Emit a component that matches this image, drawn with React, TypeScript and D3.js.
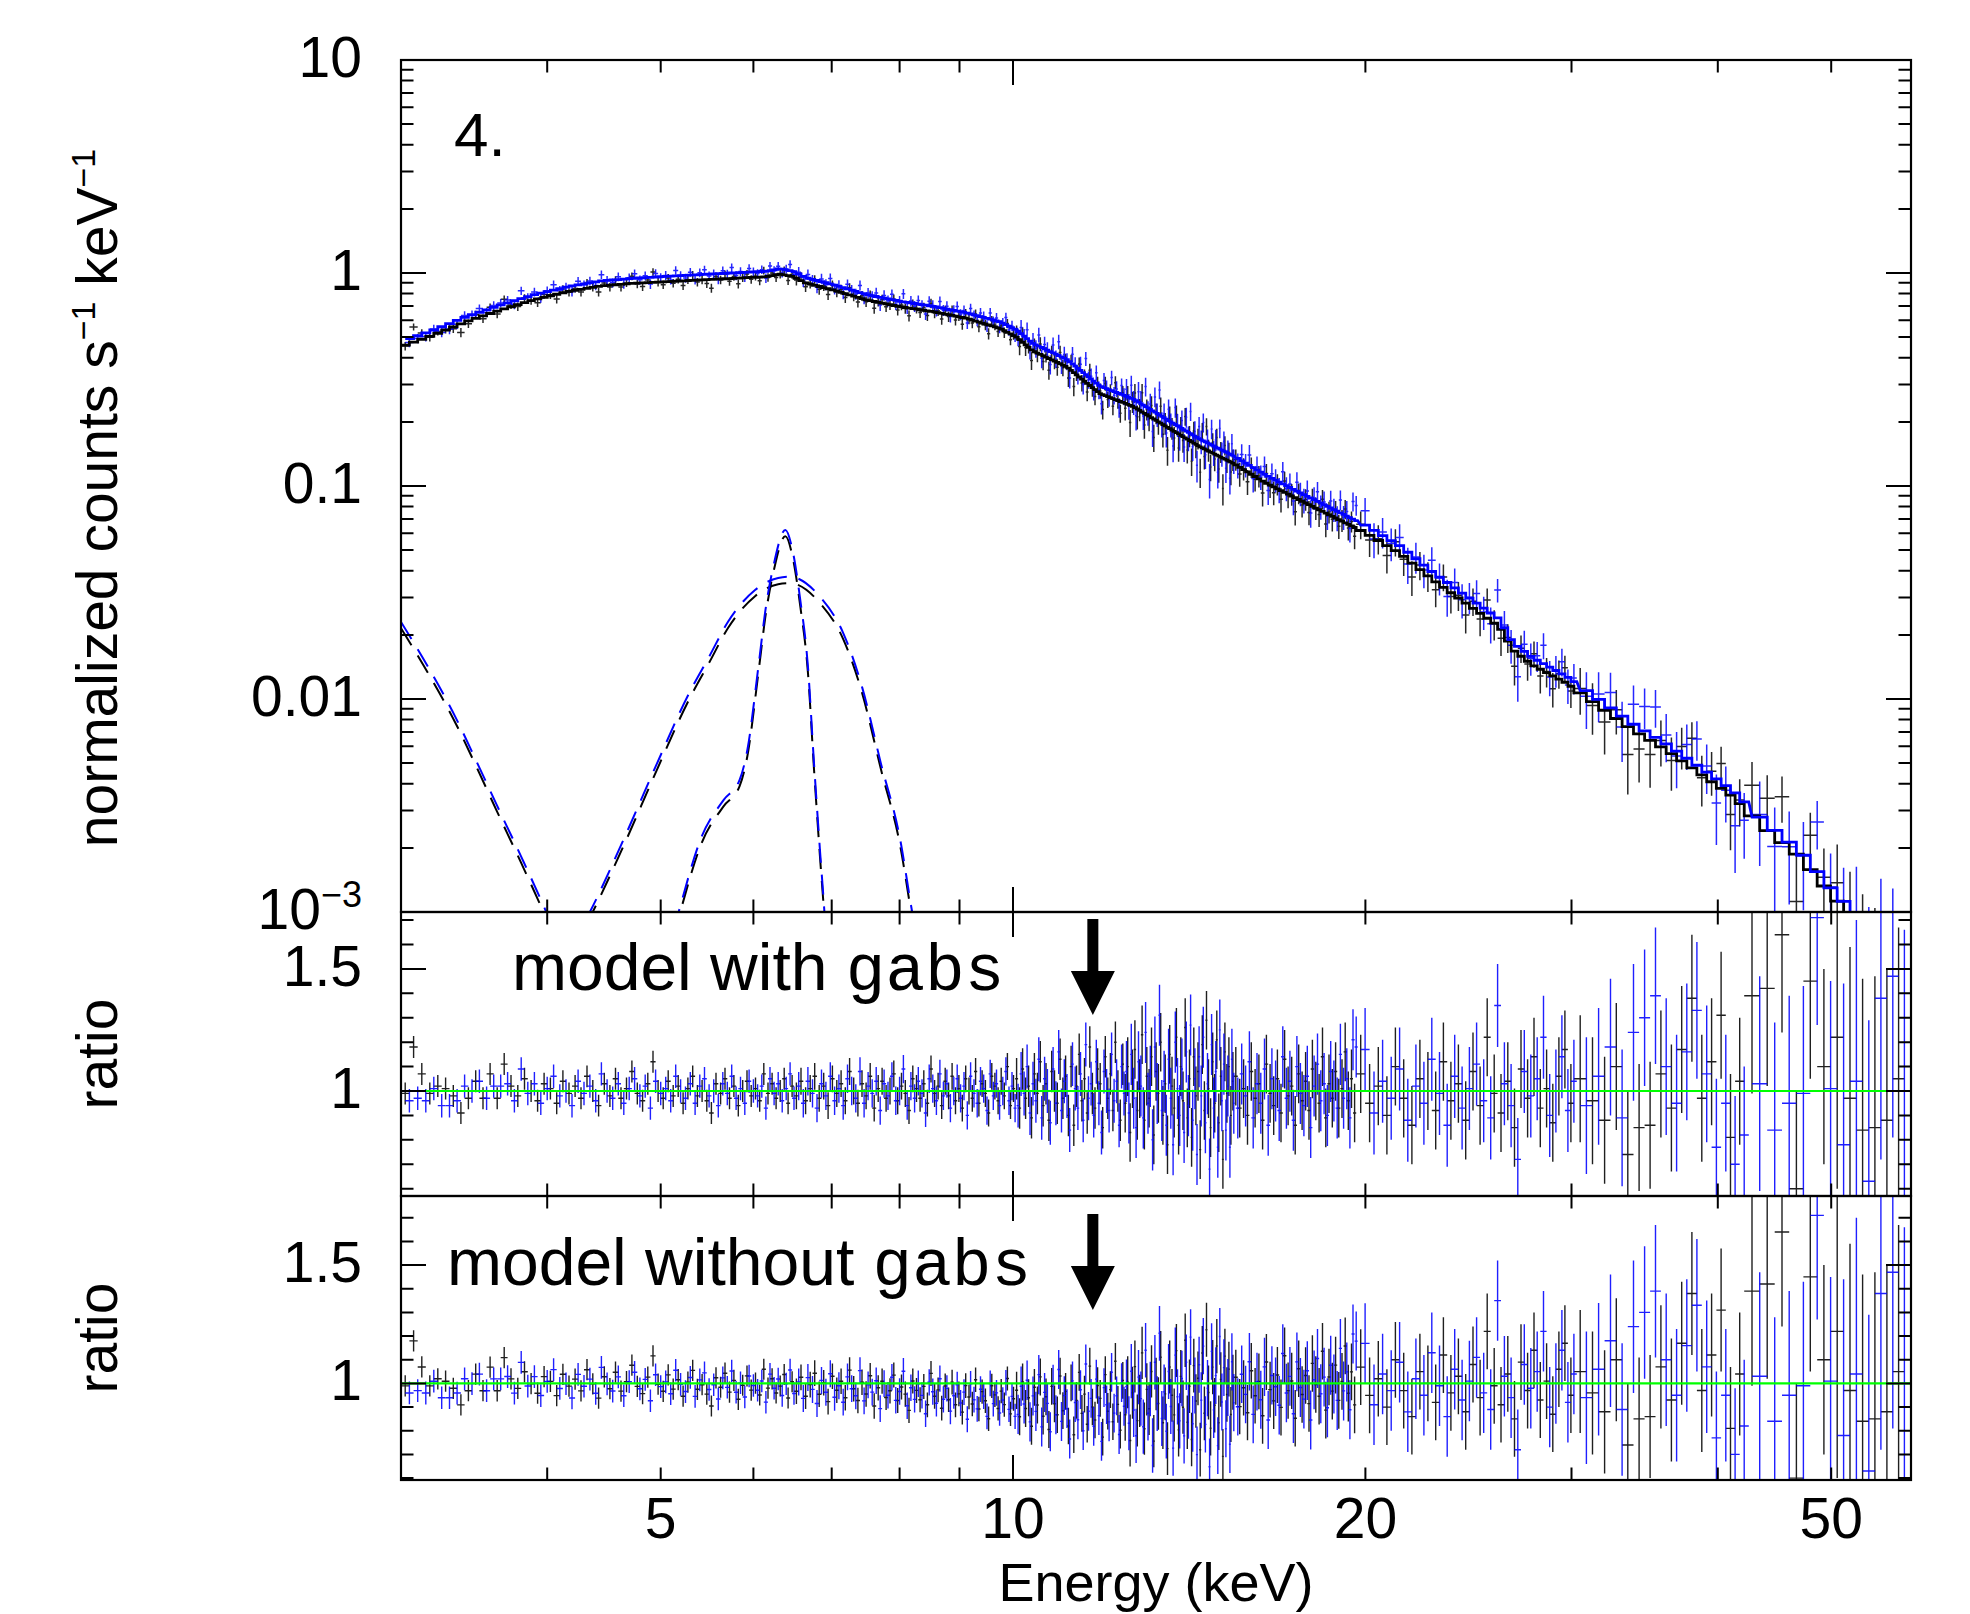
import React from 'react';
import * as d3 from 'd3';

// ---------------- DATA ----------------
// Model (folded, normalized counts s^-1 keV^-1) key points
const modelE = [3.0, 3.2, 3.41, 3.65, 3.89, 4.16, 4.44, 4.74, 5.06, 5.40, 5.77, 6.16, 6.32, 6.49, 6.66, 7.02, 7.50, 8.00, 8.55, 9.12, 9.74, 10.07, 10.40, 11.11, 11.47, 11.86, 12.67, 13.52, 14.44, 15.41, 16.46, 17.57, 18.76, 20.03, 21.39, 22.84, 24.38, 26.04, 26.73, 27.80, 29.69, 31.70, 33.84, 36.14, 38.59, 41.20, 44.00, 46.97, 50.16, 51.5, 58.5];
const modelFPMA = [0.451, 0.512, 0.591, 0.671, 0.747, 0.817, 0.869, 0.895, 0.910, 0.927, 0.944, 0.961, 0.989, 0.961, 0.895, 0.832, 0.747, 0.695, 0.658, 0.613, 0.55, 0.50, 0.43, 0.363, 0.315, 0.272, 0.236, 0.190, 0.153, 0.128, 0.103, 0.086, 0.0718, 0.0600, 0.0484, 0.0362, 0.0281, 0.0218, 0.0170, 0.0144, 0.0119, 0.0092, 0.00715, 0.00576, 0.00448, 0.00348, 0.00243, 0.00182, 0.00118, 0.00102, 0.00045];
const modelFPMB = [0.476, 0.540, 0.623, 0.708, 0.788, 0.862, 0.917, 0.944, 0.965, 0.983, 1.001, 1.019, 1.048, 1.019, 0.949, 0.882, 0.792, 0.737, 0.697, 0.650, 0.591, 0.540, 0.467, 0.394, 0.342, 0.295, 0.256, 0.206, 0.166, 0.139, 0.112, 0.0933, 0.0779, 0.0651, 0.0525, 0.0393, 0.0305, 0.0237, 0.0184, 0.0156, 0.0128, 0.00989, 0.00765, 0.00616, 0.00479, 0.00372, 0.00260, 0.00195, 0.00126, 0.00109, 0.00048];

// Additive model components (dashed)
const softE = [3.0, 3.17, 3.34, 3.48, 3.62, 3.80, 3.98, 4.15];
const softA = [0.0215, 0.0130, 0.0077, 0.0048, 0.0030, 0.00170, 0.00097, 0.00056];
const softB = [0.0230, 0.0139, 0.0082, 0.0051, 0.0032, 0.00182, 0.00104, 0.00060];
const broadE = [4.2, 4.35, 4.66, 4.95, 5.29, 5.50, 5.71, 6.02, 6.30, 6.44, 6.84, 7.16, 7.43, 7.71, 8.01, 8.20, 8.4];
const broadA = [0.00065, 0.00094, 0.00211, 0.0045, 0.0100, 0.0148, 0.0216, 0.0304, 0.0346, 0.0350, 0.0282, 0.0191, 0.0107, 0.0047, 0.00204, 0.00094, 0.00047];
const broadB = [0.0007, 0.001, 0.00226, 0.00481, 0.0107, 0.0158, 0.0231, 0.0325, 0.0370, 0.0375, 0.0302, 0.0204, 0.0114, 0.0050, 0.00218, 0.0010, 0.0005];
const narrowE = [5.05, 5.18, 5.42, 5.66, 5.84, 5.93, 6.06, 6.15, 6.24, 6.39, 6.48, 6.58, 6.68, 6.76, 6.84, 6.90, 6.95];
const narrowA = [0.00056, 0.00094, 0.00211, 0.00314, 0.0039, 0.0054, 0.0133, 0.0253, 0.0391, 0.0581, 0.0468, 0.0273, 0.0133, 0.0047, 0.00182, 0.00094, 0.00047];
const narrowB = [0.0006, 0.001, 0.00226, 0.00336, 0.00417, 0.00578, 0.0142, 0.0271, 0.0418, 0.0622, 0.0501, 0.0292, 0.0142, 0.0050, 0.00195, 0.0010, 0.0005];

// Spectral binning (keV): group start, bin width, number of bins, typical 1-sigma ratio error
const segStart = [3.0, 6.5, 10.04, 12.44, 15.44, 19.64, 30.14, 42.14, 49.94];
const segWidth = [0.05, 0.06, 0.06, 0.06, 0.12, 0.35, 0.75, 1.3, 1.3];
const segCount = [70, 59, 40, 50, 35, 30, 16, 6, 6];
const segErrA = [0.045, 0.055, 0.085, 0.12, 0.12, 0.16, 0.26, 0.40, 0.62];
const segErrB = [0.048, 0.058, 0.09, 0.125, 0.125, 0.17, 0.28, 0.44, 0.66];
const binOffset = [0, 0.5]; // FPMA, FPMB grid offset (fraction of a bin)

// Data / model ratio (model with gabs), FPMA (black)
const ratioA = [
  0.99, 1.18, 1.07, 0.99, 1.02, 1.01, 0.98, 0.91, 0.97, 1.04,
  0.97, 1.07, 0.97, 1.11, 1.02, 0.98, 1.05, 1.00, 0.96, 1.03,
  1.01, 0.95, 1.04, 0.99, 1.02, 0.97, 1.06, 1.00, 0.94, 1.03,
  0.98, 1.05, 0.97, 1.01, 1.08, 0.99, 0.96, 1.03, 1.12, 1.00,
  0.97, 1.04, 0.98, 1.02, 0.95, 1.01, 1.06, 0.98, 1.00, 0.96,
  0.91, 1.03, 0.99, 1.05, 0.97, 1.02, 0.94, 1.00, 1.04, 0.98,
  1.01, 0.96, 1.07, 0.99, 1.03, 0.97, 1.00, 1.05, 0.95, 1.02,
  0.98, 1.04, 0.96, 1.01, 1.06, 0.97, 1.02, 0.94, 1.05, 0.99,
  1.03, 0.96, 1.08, 1.00, 0.95, 1.03, 0.98, 1.06, 0.93, 1.01,
  1.04, 0.97, 1.00, 1.07, 0.96, 1.02, 0.99, 0.92, 1.05, 1.01,
  0.97, 1.03, 0.95, 1.09, 0.99, 1.02, 0.94, 1.04, 0.98, 1.06,
  0.96, 1.01, 0.93, 1.05, 1.00, 0.97, 1.08, 0.95, 1.03, 0.99,
  0.91, 1.06, 1.02, 0.96, 1.04, 0.98, 1.10, 0.94, 1.01,
  1.05, 0.93, 1.09, 0.97, 1.02, 0.89, 1.07, 0.99, 1.12, 0.94,
  1.03, 0.88, 1.08, 1.00, 0.95, 1.13, 0.97, 1.06, 0.90, 1.10,
  0.86, 1.02, 1.15, 0.96, 1.05, 0.91, 1.18, 0.99, 0.93, 1.09,
  1.03, 0.85, 1.14, 0.97, 1.07, 0.92, 1.20, 1.00, 0.88, 1.11,
  0.95, 1.10, 0.83, 1.05, 1.17, 0.92, 1.01, 1.23, 0.88, 1.06,
  0.97, 1.14, 0.82, 1.08, 0.99, 1.20, 0.90, 1.03, 0.78, 1.15,
  1.02, 0.93, 1.22, 0.86, 1.10, 0.96, 1.26, 0.89, 1.05, 0.81,
  1.14, 0.98, 1.08, 0.76, 1.19, 0.92, 1.29, 1.01, 0.85, 1.12,
  0.95, 1.21, 0.87, 1.06, 0.72, 1.16, 0.99, 1.10, 0.90, 1.04,
  1.06, 0.93, 1.01, 0.90, 1.08, 0.97, 1.03, 0.88, 1.11, 0.99,
  0.94, 1.05, 0.91, 1.13, 0.98, 1.02, 0.86, 1.07, 0.96, 1.04,
  0.92, 1.09, 1.00, 0.95, 1.14, 0.89, 1.03, 0.97, 1.08, 0.93,
  1.01, 1.16, 0.96, 1.05, 0.91,
  1.07, 0.95, 1.02, 0.90, 1.10, 0.97, 0.86, 1.05, 1.00, 0.92,
  1.12, 0.96, 1.03, 0.88, 1.08, 0.94, 1.22, 0.99, 0.91, 1.04,
  0.85, 1.09, 0.97, 1.14, 0.93, 1.01, 0.87, 1.06, 1.17, 0.95,
  1.05, 0.96, 0.88, 1.10, 0.74, 0.85, 0.86, 1.07, 0.93, 1.17, 1.38, 0.97, 1.12, 1.31, 0.81, 1.04,
  1.39, 1.42, 1.64, 0.60, 1.45, 1.10,
  1.22, 0.97, 0.84, 0.85, 0.88, 1.05,
];

// Data / model ratio (model with gabs), FPMB (blue)
const ratioB = [
  0.96, 0.97, 0.96, 1.01, 0.94, 0.94, 0.96, 1.02, 1.00, 1.04,
  0.97, 1.02, 1.02, 1.03, 0.96, 1.09, 0.99, 1.03, 0.95, 1.01,
  1.06, 0.98, 1.00, 0.94, 1.04, 0.99, 1.02, 0.96, 1.07, 1.00,
  0.97, 1.03, 0.95, 1.01, 1.05, 0.98, 1.02, 0.93, 1.04, 0.99,
  1.01, 0.96, 1.06, 1.00, 0.97, 1.03, 0.95, 1.02, 1.05, 0.98,
  1.00, 0.94, 1.03, 0.99, 1.06, 0.97, 1.01, 0.95, 1.04, 1.00,
  0.98, 1.02, 0.93, 1.05, 0.99, 1.03, 0.96, 1.01, 1.07, 0.97,
  1.02, 0.95, 1.04, 0.99, 0.93, 1.03, 0.98, 1.06, 0.96, 1.01,
  0.94, 1.05, 1.00, 0.97, 1.08, 0.95, 1.02, 0.99, 1.04, 0.92,
  1.03, 0.98, 1.06, 0.96, 1.00, 1.09, 0.94, 1.02, 0.97, 1.04,
  0.99, 0.91, 1.05, 1.01, 0.96, 1.07, 0.98, 1.03, 0.93, 1.00,
  1.05, 0.97, 1.02, 0.90, 1.06, 0.99, 0.95, 1.04, 1.01, 0.92,
  1.07, 0.98, 1.03, 0.94, 1.00, 1.08, 0.96, 1.02, 0.93,
  0.94, 1.07, 0.99, 1.10, 0.91, 1.03, 0.96, 1.13, 0.89, 1.05,
  1.00, 0.87, 1.09, 0.95, 1.16, 0.92, 1.04, 0.98, 0.84, 1.11,
  1.01, 0.93, 1.07, 0.88, 1.19, 0.97, 1.03, 0.90, 1.12, 0.95,
  0.83, 1.08, 1.00, 0.92, 1.15, 0.96, 1.04, 0.86, 1.10, 0.99,
  1.08, 0.91, 1.15, 0.97, 0.85, 1.12, 1.02, 0.89, 1.24, 0.95,
  1.06, 0.80, 1.18, 0.99, 1.31, 0.92, 1.04, 0.86, 1.13, 0.97,
  0.78, 1.20, 1.01, 0.90, 1.09, 0.83, 1.16, 0.94, 1.27, 0.88,
  1.05, 0.74, 1.14, 0.98, 1.22, 0.87, 1.03, 0.68, 1.19, 0.93,
  1.08, 0.77, 1.25, 0.96, 1.11, 0.84, 1.02, 0.77, 1.13, 0.95,
  0.93, 1.07, 0.98, 1.12, 0.89, 1.03, 0.95, 1.09, 0.86, 1.05,
  1.00, 0.92, 1.14, 0.97, 1.04, 0.88, 1.10, 0.99, 0.94, 1.06,
  0.85, 1.02, 1.11, 0.96, 1.03, 0.90, 1.08, 1.00, 0.93, 1.15,
  0.97, 1.05, 0.89, 1.21, 1.18,
  1.17, 0.91, 1.04, 0.97, 1.09, 0.88, 1.02, 0.95, 1.13, 0.99,
  0.86, 1.06, 0.93, 1.01, 1.11, 0.96, 0.89, 1.35, 1.03, 0.94,
  0.72, 1.08, 0.98, 1.05, 1.22, 0.90, 1.00, 1.14, 0.92, 1.04,
  0.94, 1.06, 1.18, 0.89, 1.24, 1.30, 1.39, 1.10, 0.95, 1.16, 1.33, 1.07, 0.77, 0.95, 0.70, 0.82,
  1.03, 0.84, 0.95, 0.99, 1.71, 1.01,
  0.78, 1.04, 0.63, 1.38, 1.47, 1.00,
];

// gabs component removed in the lower panel (line energy keV, sigma keV, optical depth)
const gabsLineE = 11.7;
const gabsSigma = 2.6;
const gabsDepth = 0.095;

// Axis ticks
const xMinorTicks = [4, 5, 6, 7, 8, 9, 20, 30, 40, 50];
const xMajorTicks = [10];
const xTickLabels = [5, 10, 20, 50];
const topDecades = [0.001, 0.01, 0.1, 1, 10];
const topLabels = ['10⁻³', '0.01', '0.1', '1', '10'];
const ratioTicks = [0.6, 0.7, 0.8, 0.9, 1.0, 1.1, 1.2, 1.3, 1.4, 1.5, 1.6, 1.7];
const ratioMajor = [1.0, 1.5];
const ratioLabels = ['1', '1.5'];
const arrowEnergy = 11.7;

// ---------------- LAYOUT ----------------
const W = 1970, H = 1614;
const L = 401, R = 1911;
const P = [
  { y0: 60, y1: 912 },
  { y0: 912, y1: 1196 },
  { y0: 1196, y1: 1480 },
];
const FONT = "'Liberation Sans', Arial, Helvetica, sans-serif";
const MONO = "'Liberation Mono', 'Courier New', monospace";
const MAJ = 25, MIN = 12.5;

const x = d3.scaleLog().domain([3, 58.5]).range([L, R]);
const yTop = d3.scaleLog().domain([1e-3, 10]).range([P[0].y1, P[0].y0]);
const yMid = d3.scaleLinear().domain([0.57, 1.733]).range([P[1].y1, P[1].y0]);
const yBot = d3.scaleLinear().domain([0.592, 1.792]).range([P[2].y1, P[2].y0]);

function interpLL(E: number, xs: number[], ys: number[]) {
  if (E <= xs[0]) return ys[0];
  if (E >= xs[xs.length - 1]) return ys[ys.length - 1];
  const i = d3.bisectRight(xs, E) - 1;
  const t = (Math.log(E) - Math.log(xs[i])) / (Math.log(xs[i + 1]) - Math.log(xs[i]));
  return Math.exp(Math.log(ys[i]) + t * (Math.log(ys[i + 1]) - Math.log(ys[i])));
}

type Bin = { lo: number; hi: number; e: number; r: number; err: number; m: number };
function makeBins(ratios: number[], errs: number[], off: number, model: number[]): Bin[] {
  const out: Bin[] = [];
  let k = 0;
  segStart.forEach((s, i) => {
    const w = segWidth[i];
    for (let j = 0; j < segCount[i]; j++) {
      const r = ratios[k++];
      if (r === undefined) continue;
      const lo = s + (j + off) * w;
      const hi = Math.min(lo + w, 58.5);
      const e = (lo + hi) / 2;
      out.push({ lo, hi, e, r, err: errs[i], m: interpLL(e, modelE, model) });
    }
  });
  return out;
}
const gabsFactor = (E: number) =>
  Math.exp(-gabsDepth * Math.exp(-((E - gabsLineE) ** 2) / (2 * gabsSigma * gabsSigma)));

const binsA = makeBins(ratioA, segErrA, binOffset[0], modelFPMA);
const binsB = makeBins(ratioB, segErrB, binOffset[1], modelFPMB);
const sets = [
  { bins: binsA, color: '#000000' },
  { bins: binsB, color: '#0000ff' },
];

const f1 = (v: number) => v.toFixed(1);

function XTicks({ y0, y1 }: { y0: number; y1: number }) {
  const d: string[] = [];
  xMinorTicks.forEach((v) => {
    const px = f1(x(v));
    d.push(`M${px},${y0}V${y0 + MIN}M${px},${y1}V${y1 - MIN}`);
  });
  xMajorTicks.forEach((v) => {
    const px = f1(x(v));
    d.push(`M${px},${y0}V${y0 + MAJ}M${px},${y1}V${y1 - MAJ}`);
  });
  return <path d={d.join('')} stroke="#000" strokeWidth={2} fill="none" />;
}

function YTicks({ vals, scale }: { vals: { v: number; major: boolean }[]; scale: (v: number) => number }) {
  const d = vals
    .map(({ v, major }) => {
      const py = f1(scale(v));
      const len = major ? MAJ : MIN;
      return `M${L},${py}H${L + len}M${R},${py}H${R - len}`;
    })
    .join('');
  return <path d={d} stroke="#000" strokeWidth={2} fill="none" />;
}

function Arrow({ cx, top, headTop, tip }: { cx: number; top: number; headTop: number; tip: number }) {
  const sw = 5.5, hw = 22;
  const d = `M${cx - sw},${top}H${cx + sw}V${headTop}H${cx + hw}L${cx},${tip}L${cx - hw},${headTop}H${cx - sw}Z`;
  return <path d={d} fill="#000" />;
}

export default function App() {
  const topTickVals: { v: number; major: boolean }[] = [];
  [0.001, 0.01, 0.1, 1].forEach((dec) => {
    topTickVals.push({ v: dec, major: true });
    for (let m = 2; m <= 9; m++) topTickVals.push({ v: dec * m, major: false });
  });
  topTickVals.push({ v: 10, major: true });
  const ratioTickVals = ratioTicks.map((v) => ({ v, major: ratioMajor.some((mj) => Math.abs(mj - v) < 1e-6) }));

  const stepLine = (bins: Bin[]) => {
    const pts: [number, number][] = [];
    bins.forEach((b) => {
      pts.push([x(b.lo), yTop(b.m)]);
      pts.push([x(b.hi), yTop(b.m)]);
    });
    return d3.line()(pts) || '';
  };
  const compLine = (es: number[], vs: number[]) =>
    d3.line().curve(d3.curveMonotoneX)(es.map((e, i) => [x(e), yTop(vs[i])] as [number, number])) || '';

  const topCross = (b: Bin) => {
    const v = b.m * b.r;
    const lo = Math.max(v - b.m * b.err, 1e-5);
    const hi = v + b.m * b.err;
    return `M${f1(x(b.lo))},${f1(yTop(v))}H${f1(x(b.hi))}M${f1(x(b.e))},${f1(yTop(lo))}V${f1(yTop(hi))}`;
  };
  const ratioCross = (b: Bin, scale: (v: number) => number, fac: number) => {
    const r = b.r * fac;
    const er = b.err * fac;
    return `M${f1(x(b.lo))},${f1(scale(r))}H${f1(x(b.hi))}M${f1(x(b.e))},${f1(scale(r - er))}V${f1(scale(r + er))}`;
  };

  const ax = x(arrowEnergy);

  return (
    <svg width={W} height={H} viewBox={`0 0 ${W} ${H}`} style={{ position: 'absolute', left: 0, top: 0, background: '#fff' }}
      fontFamily={FONT}>
      <rect x={0} y={0} width={W} height={H} fill="#fff" />
      <defs>
        {P.map((p, i) => (
          <clipPath id={`clip${i}`} key={i}>
            <rect x={L} y={p.y0} width={R - L} height={p.y1 - p.y0} />
          </clipPath>
        ))}
      </defs>

      {/* ---------- Top panel ---------- */}
      <g clipPath="url(#clip0)">
        {sets.map((s, si) => (
          <g key={si} stroke={s.color} strokeWidth={1.5} strokeOpacity={0.85} fill="none">
            {s.bins.map((b, i) => (
              <path key={i} d={topCross(b)} />
            ))}
          </g>
        ))}
        <path d={stepLine(binsA)} stroke="#000" strokeWidth={2.8} fill="none" />
        <path d={stepLine(binsB)} stroke="#0000ff" strokeWidth={2.8} fill="none" />
        <g fill="none" strokeWidth={2} strokeDasharray="20,12">
          <path d={compLine(softE, softA)} stroke="#000" />
          <path d={compLine(softE, softB)} stroke="#0000ff" />
          <path d={compLine(broadE, broadA)} stroke="#000" />
          <path d={compLine(broadE, broadB)} stroke="#0000ff" />
          <path d={compLine(narrowE, narrowA)} stroke="#000" />
          <path d={compLine(narrowE, narrowB)} stroke="#0000ff" />
        </g>
      </g>

      {/* ---------- Ratio panels ---------- */}
      {[
        { pi: 1, scale: yMid, fac: (_e: number) => 1 },
        { pi: 2, scale: yBot, fac: gabsFactor },
      ].map(({ pi, scale, fac }) => (
        <g key={pi} clipPath={`url(#clip${pi})`}>
          {sets.map((s, si) => (
            <g key={si} stroke={s.color} strokeWidth={1.4} strokeOpacity={0.88} fill="none">
              {s.bins.map((b, i) => (
                <path key={i} d={ratioCross(b, scale, fac(b.e))} />
              ))}
            </g>
          ))}
          <line x1={L} x2={R} y1={scale(1)} y2={scale(1)} stroke="#00ff00" strokeWidth={2.2} />
        </g>
      ))}

      {/* ---------- Frames & ticks ---------- */}
      {P.map((p, i) => (
        <g key={i}>
          <rect x={L} y={p.y0} width={R - L} height={p.y1 - p.y0} fill="none" stroke="#000" strokeWidth={2.2} />
          <XTicks y0={p.y0} y1={p.y1} />
        </g>
      ))}
      <YTicks vals={topTickVals} scale={yTop} />
      <YTicks vals={ratioTickVals} scale={yMid} />
      <YTicks vals={ratioTickVals} scale={yBot} />

      {/* ---------- Tick labels ---------- */}
      <g fontSize={57} textAnchor="end" fill="#000">
        {topDecades.map((v, i) =>
          v === 0.001 ? (
            <text key={i} x={362} y={yTop(v) + 17}>
              10<tspan fontSize={36} dy={-22}>−3</tspan>
            </text>
          ) : (
            <text key={i} x={362} y={yTop(v) + 17}>{topLabels[i]}</text>
          )
        )}
        {ratioMajor.map((v, i) => (
          <text key={'m' + i} x={362} y={yMid(v) + 17}>{ratioLabels[i]}</text>
        ))}
        {ratioMajor.map((v, i) => (
          <text key={'b' + i} x={362} y={yBot(v) + 17}>{ratioLabels[i]}</text>
        ))}
      </g>
      <g fontSize={57} textAnchor="middle" fill="#000">
        {xTickLabels.map((v) => (
          <text key={v} x={x(v)} y={1538}>{v}</text>
        ))}
      </g>

      {/* ---------- Axis titles ---------- */}
      <text x={(L + R) / 2} y={1601} fontSize={54} textAnchor="middle">Energy (keV)</text>
      <text transform={`translate(117,498) rotate(-90)`} fontSize={57} textAnchor="middle">
        normalized counts s<tspan fontSize={34} dy={-22}>−1</tspan>
        <tspan dy={22}> keV</tspan>
        <tspan fontSize={34} dy={-22}>−1</tspan>
      </text>
      <text transform={`translate(117,${(P[1].y0 + P[1].y1) / 2}) rotate(-90)`} fontSize={57} textAnchor="middle">ratio</text>
      <text transform={`translate(117,${(P[2].y0 + P[2].y1) / 2}) rotate(-90)`} fontSize={57} textAnchor="middle">ratio</text>

      {/* ---------- Annotations ---------- */}
      <text x={454} y={156} fontSize={62}>4.</text>
      <text x={512} y={990} fontSize={66}>
        model with <tspan fontFamily={MONO}>gabs</tspan>
      </text>
      <text x={447} y={1285} fontSize={66}>
        model without <tspan fontFamily={MONO}>gabs</tspan>
      </text>
      <Arrow cx={ax} top={919} headTop={971} tip={1015} />
      <Arrow cx={ax} top={1214} headTop={1266} tip={1310} />
    </svg>
  );
}
